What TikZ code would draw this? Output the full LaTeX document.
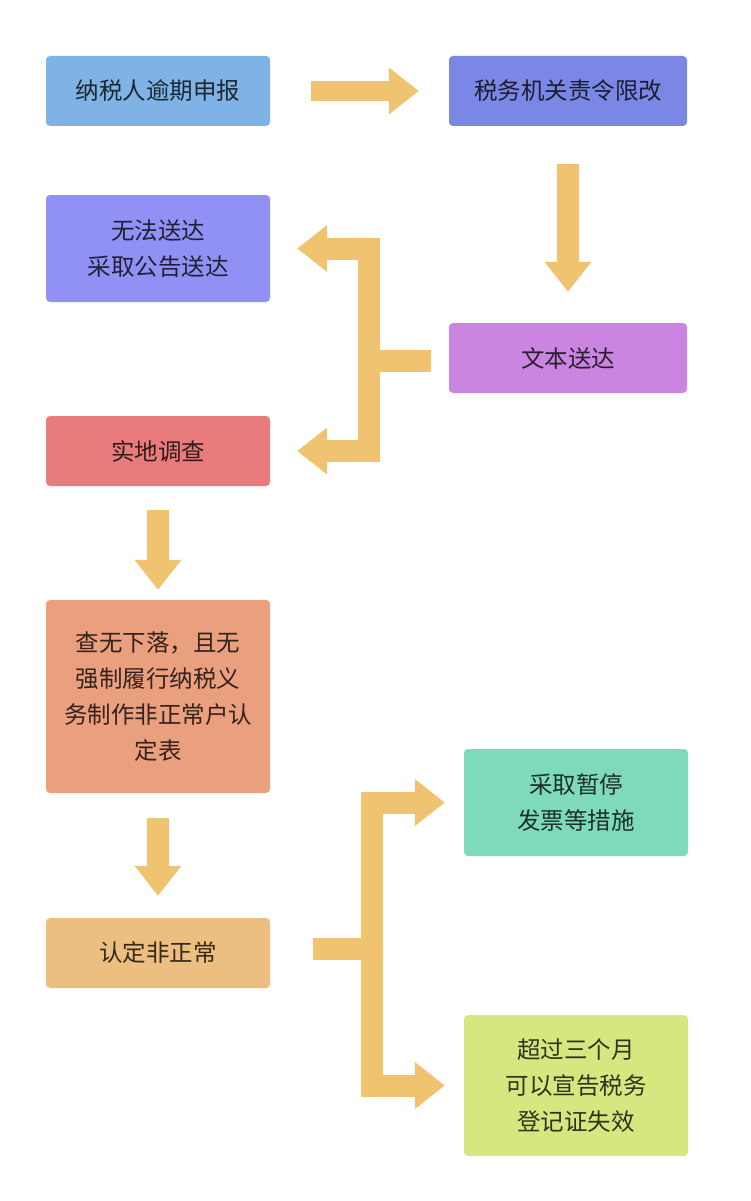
\documentclass[tikz,border=0pt]{standalone}
\usepackage{fontspec}
\newfontfamily\cjk{Noto Sans CJK SC}
\usetikzlibrary{arrows.meta}
\definecolor{arrowc}{HTML}{EFC36F}
\definecolor{cblue}{HTML}{7FB3E6}
\definecolor{cindigo}{HTML}{7B87E4}
\definecolor{cviolet}{HTML}{9191F5}
\definecolor{cpurple}{HTML}{C985E0}
\definecolor{cred}{HTML}{E87B7B}
\definecolor{csalmon}{HTML}{EA9F7E}
\definecolor{csand}{HTML}{ECBE80}
\definecolor{cmint}{HTML}{7FDABB}
\definecolor{clime}{HTML}{D5E880}
\tikzset{
  box/.style={fill=#1, text=#1!22!black, rounded corners=4pt, inner sep=0pt,
    minimum width=224pt, minimum height=70pt, align=center,
    font=\cjk\fontsize{23.5}{36}\selectfont},
  fatline/.style={draw=arrowc, line width=22pt, line join=miter},
  fat/.style={fatline, -{Triangle[length=30pt, width=45pt]}},
  fatboth/.style={fatline, {Triangle[length=30pt, width=45pt]}-{Triangle[length=30pt, width=45pt]}}
}
\begin{document}
\begin{tikzpicture}[x=1pt, y=-1pt]
  \useasboundingbox[fill=white] (0,0) rectangle (750,1201);
  % left column
  \node[box=cblue] (nsr) at (158,91) {纳税人逾期申报};
  \node[box=cviolet, minimum height=107pt] (wfsd) at (158,248.5) {无法送达\\采取公告送达};
  \node[box=cred] (sddc) at (158,451) {实地调查};
  \node[box=csalmon, minimum height=193pt] (cwxl) at (158,696.5)
    {查无下落，且无\\强制履行纳税义\\务制作非正常户认\\定表};
  \node[box=csand] (rdfzc) at (158,953) {认定非正常};
  % right column
  \node[box=cindigo, minimum width=238pt] (zlxg) at (568,91) {税务机关责令限改};
  \node[box=cpurple, minimum width=238pt] (wbsd) at (568,358) {文本送达};
  \node[box=cmint, minimum height=107pt] (ztfp) at (576,802.5) {采取暂停\\发票等措施};
  \node[box=clime, minimum height=141pt] (xgsx) at (576,1085.5) {超过三个月\\可以宣告税务\\登记证失效};
  % straight arrows
  \draw[fat, line width=20pt, shorten <=41pt, shorten >=30pt] (nsr) -- (zlxg);
  \draw[fat, shorten <=38pt, shorten >=31pt] (zlxg) -- (wbsd);
  \draw[fat, shorten <=24pt, shorten >=10pt] (sddc) -- (cwxl);
  \draw[fat, shorten <=25pt, shorten >=22pt] (cwxl) -- (rdfzc);
  % branch from wbsd
  \coordinate (bar1) at (369,361);
  \draw[fatline, shorten <=18pt] (wbsd.west |- bar1) -- (bar1);
  \draw[fatboth, shorten <=27pt, shorten >=27pt] (wfsd.east) -| (bar1) |- (sddc.east);
  % branch from rdfzc
  \coordinate (bar2) at (372,949);
  \draw[fatline, shorten <=43pt] (rdfzc.east |- bar2) -- (bar2);
  \draw[fatboth, shorten <=19pt, shorten >=19pt] (ztfp.west) -| (bar2) |- (xgsx.west);
\end{tikzpicture}
\end{document}
